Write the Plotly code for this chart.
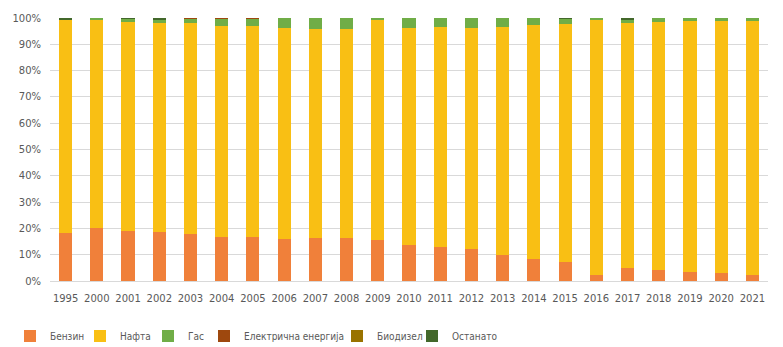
import plotly.graph_objects as go

years = ["1995", "2000", "2001", "2002", "2003", "2004", "2005", "2006", "2007", "2008",
         "2009", "2010", "2011", "2012", "2013", "2014", "2015", "2016", "2017", "2018",
         "2019", "2020", "2021"]

benzin = [18.1, 20.0, 19.2, 18.5, 17.7, 16.6, 16.6, 15.8, 16.2, 16.2, 15.5, 13.6, 12.8,
          12.1, 9.9, 8.2, 7.2, 2.4, 5.0, 4.2, 3.5, 3.1, 2.4]
nafta = [81.3, 79.1, 79.3, 79.5, 80.4, 80.5, 80.5, 80.4, 79.7, 79.7, 84.1, 82.6, 83.8,
         84.1, 86.7, 89.2, 90.5, 97.2, 93.1, 94.3, 95.4, 95.8, 96.5]
gas = [0.0, 0.9, 1.3, 1.6, 1.6, 2.6, 2.6, 3.8, 4.1, 4.1, 0.4, 3.8, 3.4, 3.8, 3.4, 2.6,
       2.0, 0.4, 1.5, 1.5, 1.1, 1.1, 1.1]
elektricna = [0.0, 0.0, 0.0, 0.0, 0.3, 0.3, 0.3, 0.0, 0.0, 0.0, 0.0, 0.0, 0.0, 0.0, 0.0,
              0.0, 0.0, 0.0, 0.0, 0.0, 0.0, 0.0, 0.0]
biodizel = [0.0] * 23
ostanato = [0.6, 0.0, 0.2, 0.4, 0.0, 0.0, 0.0, 0.0, 0.0, 0.0, 0.0, 0.0, 0.0, 0.0, 0.0,
            0.0, 0.3, 0.0, 0.4, 0.0, 0.0, 0.0, 0.0]

series_names = ["Бензин", "Нафта", "Гас", "Електрична енергија", "Биодизел", "Останато"]
series_values = [benzin, nafta, gas, elektricna, biodizel, ostanato]
series_colors = ["#F0803A", "#F9BF14", "#70AD47", "#9E480E", "#997300", "#43682B"]
legend_px = [10, 80, 148, 204, 337, 412]   # left edge of each legend item (px)

W, H = 783, 347
fig = go.Figure()
legend_layout = {}
for i, (name, vals, col, lx) in enumerate(zip(series_names, series_values, series_colors, legend_px)):
    key = "legend" if i == 0 else f"legend{i+1}"
    fig.add_trace(go.Bar(
        x=years, y=vals, name=name, marker_color=col, marker_line_width=0,
        legend=key,
    ))
    legend_layout[key] = dict(
        xref="container", yref="container", x=lx / W, y=11 / H,
        xanchor="left", yanchor="middle", orientation="h",
        bgcolor="rgba(0,0,0,0)", borderwidth=0,
        font=dict(family="DejaVu Sans Condensed, sans-serif", size=10, color="#595959"),
    )

fig.update_layout(
    width=W, height=H, barmode="stack", bargap=0.58,
    margin=dict(l=50, r=15, t=15, b=66),
    plot_bgcolor="white", paper_bgcolor="white",
    font=dict(family="DejaVu Sans, sans-serif", size=10, color="#595959"),
    showlegend=True,
    **legend_layout,
)
fig.update_xaxes(type="category", showgrid=False, showline=True, linecolor="#D9D9D9",
                 linewidth=1, ticks="", ticklabelstandoff=8,
                 tickfont=dict(family="DejaVu Sans, sans-serif", size=10, color="#595959"))
fig.update_yaxes(range=[0, 100], dtick=10, ticksuffix="%", showgrid=True, gridcolor="#D9D9D9",
                 gridwidth=1, zeroline=False, showline=False, ticks="", ticklabelstandoff=8,
                 tickfont=dict(family="DejaVu Sans, sans-serif", size=10, color="#595959"))

fig.write_html("out.html")
